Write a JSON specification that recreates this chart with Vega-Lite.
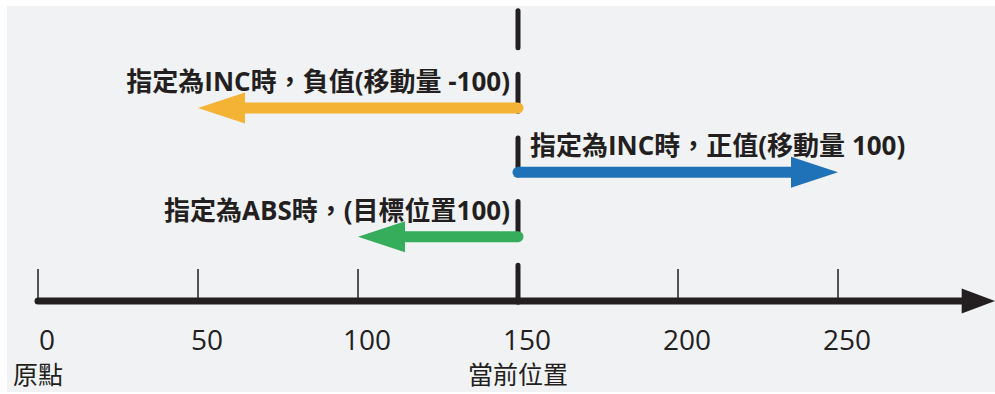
{
  "$schema": "https://vega.github.io/schema/vega-lite/v6.json",
  "width": 988,
  "height": 386,
  "autosize": {"type": "none"},
  "padding": {"left": 7, "top": 6, "right": 0, "bottom": 2},
  "background": "white",
  "config": {"view": {"stroke": null, "fill": "#f1f2f4"}},
  "datasets": {
    "arrows": [
      {"case": "INC負值", "label": "指定為INC時，負值(移動量 -100)", "start": 150, "end": 50, "level": 3},
      {"case": "INC正值", "label": "指定為INC時，正值(移動量 100)", "start": 150, "end": 250, "level": 2},
      {"case": "ABS", "label": "指定為ABS時，(目標位置100)", "start": 150, "end": 100, "level": 1}
    ],
    "ticks": [
      {"v": 0, "text": "0", "caption": "原點"},
      {"v": 50, "text": "50"},
      {"v": 100, "text": "100"},
      {"v": 150, "text": "150", "caption": "當前位置"},
      {"v": 200, "text": "200"},
      {"v": 250, "text": "250"}
    ],
    "axisline": [{"from": 0, "to": 299.06, "level": 0}],
    "current": [{"pos": 150, "top": 4.511, "bottom": -0.023}]
  },
  "layer": [
    {
      "data": {"name": "ticks"},
      "mark": {"type": "rule", "color": "#231f20", "strokeWidth": 1.5},
      "encoding": {
        "x": {"field": "v", "type": "quantitative", "scale": {"domain": [-9.6875, 299.0625], "nice": false, "zero": false}, "axis": null},
        "y": {"datum": 0, "type": "quantitative", "scale": {"domain": [-1.415, 4.585], "nice": false, "zero": false}, "axis": null},
        "y2": {"datum": 0.497}
      }
    },
    {
      "data": {"name": "axisline"},
      "mark": {"type": "rule", "color": "#231f20", "strokeWidth": 7, "strokeCap": "round", "x2Offset": -16},
      "encoding": {
        "x": {"field": "from", "type": "quantitative", "scale": {"domain": [-9.6875, 299.0625], "nice": false, "zero": false}, "axis": null},
        "x2": {"field": "to"},
        "y": {"field": "level", "type": "quantitative", "scale": {"domain": [-1.415, 4.585], "nice": false, "zero": false}, "axis": null}
      }
    },
    {
      "data": {"name": "axisline"},
      "mark": {"type": "point", "filled": true, "opacity": 1, "color": "#231f20", "strokeWidth": 0, "shape": "M0,0L-2,-0.75L-2,0.75Z", "size": 1109},
      "encoding": {
        "x": {"field": "to", "type": "quantitative", "scale": {"domain": [-9.6875, 299.0625], "nice": false, "zero": false}, "axis": null},
        "y": {"field": "level", "type": "quantitative", "scale": {"domain": [-1.415, 4.585], "nice": false, "zero": false}, "axis": null}
      }
    },
    {
      "data": {"name": "current"},
      "mark": {"type": "rule", "color": "#231f20", "strokeWidth": 5, "strokeCap": "round", "strokeDash": [37, 26.6]},
      "encoding": {
        "x": {"field": "pos", "type": "quantitative", "scale": {"domain": [-9.6875, 299.0625], "nice": false, "zero": false}, "axis": null},
        "y": {"field": "top", "type": "quantitative", "scale": {"domain": [-1.415, 4.585], "nice": false, "zero": false}, "axis": null},
        "y2": {"field": "bottom"}
      }
    },
    {
      "data": {"name": "arrows"},
      "mark": {"type": "rule", "strokeWidth": 11, "strokeCap": "round", "x2Offset": {"expr": "datum.end < datum.start ? 25 : -25"}},
      "encoding": {
        "x": {"field": "start", "type": "quantitative", "scale": {"domain": [-9.6875, 299.0625], "nice": false, "zero": false}, "axis": null},
        "x2": {"field": "end"},
        "y": {"field": "level", "type": "quantitative", "scale": {"domain": [-1.415, 4.585], "nice": false, "zero": false}, "axis": null},
        "color": {"field": "case", "type": "nominal", "scale": {"domain": ["INC負值", "INC正值", "ABS"], "range": ["#f5b335", "#1f71b8", "#35ad5b"]}, "legend": null}
      }
    },
    {
      "data": {"name": "arrows"},
      "mark": {"type": "point", "filled": true, "opacity": 1, "strokeWidth": 0, "size": 2209, "shape": {"expr": "datum.end < datum.start ? 'M0,0L2,-0.66L2,0.66Z' : 'M0,0L-2,-0.66L-2,0.66Z'"}},
      "encoding": {
        "x": {"field": "end", "type": "quantitative", "scale": {"domain": [-9.6875, 299.0625], "nice": false, "zero": false}, "axis": null},
        "y": {"field": "level", "type": "quantitative", "scale": {"domain": [-1.415, 4.585], "nice": false, "zero": false}, "axis": null},
        "color": {"field": "case", "type": "nominal", "scale": {"domain": ["INC負值", "INC正值", "ABS"], "range": ["#f5b335", "#1f71b8", "#35ad5b"]}, "legend": null}
      }
    },
    {
      "data": {"name": "arrows"},
      "mark": {"type": "text", "font": "'Open Sans', 'Noto Sans CJK TC', sans-serif", "fontSize": 26, "fontWeight": "bold", "color": "#231f20", "baseline": "middle", "dy": -25, "align": {"expr": "datum.end > datum.start ? 'left' : 'right'"}, "dx": {"expr": "datum.end > datum.start ? 12 : -8"}},
      "encoding": {
        "x": {"field": "start", "type": "quantitative", "scale": {"domain": [-9.6875, 299.0625], "nice": false, "zero": false}, "axis": null},
        "y": {"field": "level", "type": "quantitative", "scale": {"domain": [-1.415, 4.585], "nice": false, "zero": false}, "axis": null},
        "text": {"field": "label"}
      }
    },
    {
      "data": {"name": "ticks"},
      "mark": {"type": "text", "font": "'Open Sans', 'Noto Sans CJK TC', sans-serif", "fontSize": 28, "color": "#231f20", "baseline": "middle", "align": "center", "dy": 41.5, "dx": 9},
      "encoding": {
        "x": {"field": "v", "type": "quantitative", "scale": {"domain": [-9.6875, 299.0625], "nice": false, "zero": false}, "axis": null},
        "y": {"datum": 0, "type": "quantitative", "scale": {"domain": [-1.415, 4.585], "nice": false, "zero": false}, "axis": null},
        "text": {"field": "text"}
      }
    },
    {
      "data": {"name": "ticks"},
      "transform": [{"filter": "isValid(datum.caption)"}],
      "mark": {"type": "text", "font": "'Noto Sans CJK TC', sans-serif", "fontSize": 25, "color": "#231f20", "baseline": "middle", "align": "center", "dy": 75.5},
      "encoding": {
        "x": {"field": "v", "type": "quantitative", "scale": {"domain": [-9.6875, 299.0625], "nice": false, "zero": false}, "axis": null},
        "y": {"datum": 0, "type": "quantitative", "scale": {"domain": [-1.415, 4.585], "nice": false, "zero": false}, "axis": null},
        "text": {"field": "caption"}
      }
    }
  ]
}
